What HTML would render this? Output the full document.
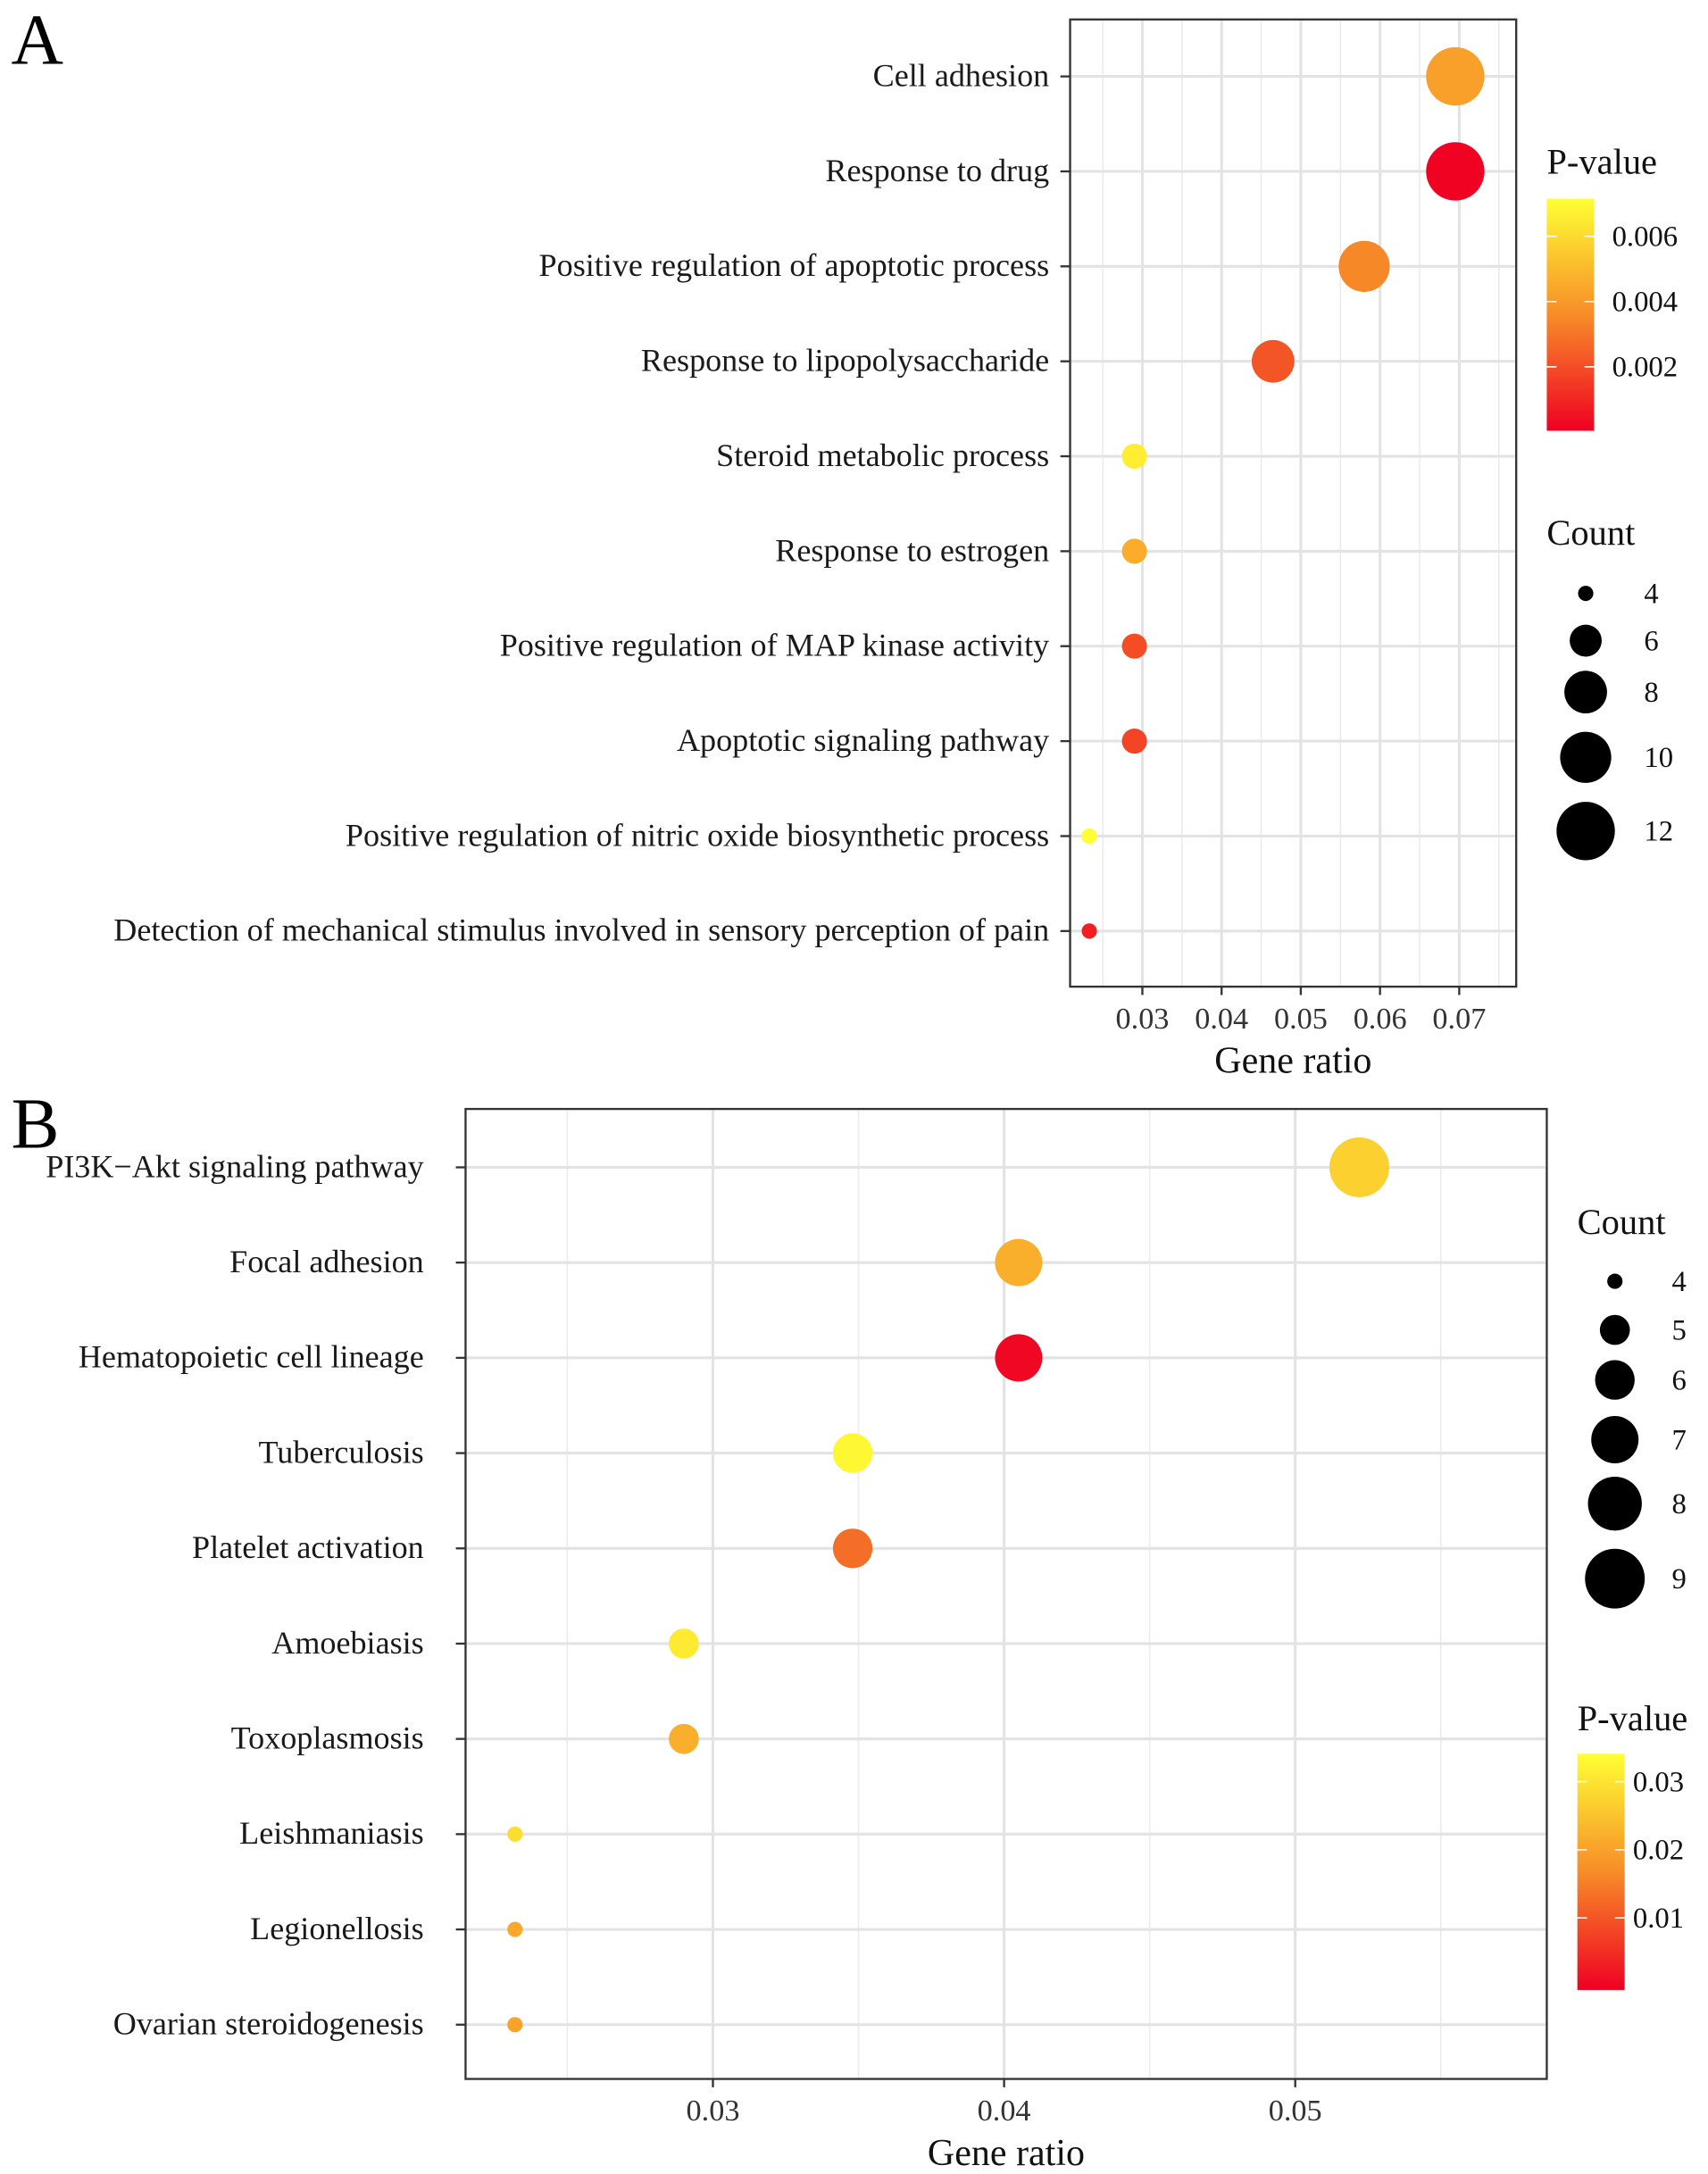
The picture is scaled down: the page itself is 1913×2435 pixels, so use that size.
<!DOCTYPE html>
<html><head><meta charset="utf-8"><style>
html,body{margin:0;padding:0;background:#fff;}
svg{display:block;font-family:"Liberation Serif",serif;}
</style></head><body>
<svg id="fig" width="1913" height="2435" viewBox="0 0 1229 1564.4" preserveAspectRatio="none" xmlns="http://www.w3.org/2000/svg">
<text x="8" y="46" font-size="52">A</text>
<text x="8" y="826" font-size="52">B</text>
<g id="gA"></g>
<g id="gB"></g>
</svg>
<script>
const catsA=["Cell adhesion","Response to drug","Positive regulation of apoptotic process","Response to lipopolysaccharide","Steroid metabolic process","Response to estrogen","Positive regulation of MAP kinase activity","Apoptotic signaling pathway","Positive regulation of nitric oxide biosynthetic process","Detection of mechanical stimulus involved in sensory perception of pain"];
const ratioA=[0.0695,0.0695,0.058,0.0465,0.029,0.029,0.029,0.029,0.0233,0.0233];
const countA=[12,12,10,8,5,5,5,5,4,4];
const pA=[0.0042,0.0001,0.0035,0.0022,0.0066,0.0046,0.0020,0.0018,0.0071,0.0008];
const xTicksA=[0.03,0.04,0.05,0.06,0.07];
const xMinorA=[0.025,0.035,0.045,0.055,0.065,0.075];
const sizeLegA=[4,6,8,10,12];
const colTicksA=[0.002,0.004,0.006];

const catsB=["PI3K\u2212Akt signaling pathway","Focal adhesion","Hematopoietic cell lineage","Tuberculosis","Platelet activation","Amoebiasis","Toxoplasmosis","Leishmaniasis","Legionellosis","Ovarian steroidogenesis"];
const ratioB=[0.0522,0.0405,0.0405,0.0348,0.0348,0.029,0.029,0.0232,0.0232,0.0232];
const countB=[9,7,7,6,6,5,5,4,4,4];
const pB=[0.027,0.022,0.0003,0.033,0.013,0.031,0.022,0.029,0.021,0.020];
const xTicksB=[0.03,0.04,0.05];
const xMinorB=[0.025,0.035,0.045,0.055];
const sizeLegB=[4,5,6,7,8,9];
const colTicksB=[0.01,0.02,0.03];

const NS="http://www.w3.org/2000/svg";
function mk(parent,tag,attrs,text){const e=document.createElementNS(NS,tag);for(const k in attrs)e.setAttribute(k,attrs[k]);if(text!==undefined)e.textContent=text;parent.appendChild(e);return e;}
function lerp(a,b,t){return a+(b-a)*t;}
function col(t){t=Math.max(0,Math.min(1,t));const s=[[240,0,35],[247,140,40],[255,255,51]];let a,b,u;if(t<0.5){a=s[0];b=s[1];u=t/0.5;}else{a=s[1];b=s[2];u=(t-0.5)/0.5;}return `rgb(${Math.round(lerp(a[0],b[0],u))},${Math.round(lerp(a[1],b[1],u))},${Math.round(lerp(a[2],b[2],u))})`;}

function draw(g,cfg){
  const {cats,ratio,count,p,xt,xm,L,R,T,B,x0,x1,xv0,xv1,y0,dy,rmin,rmax,cmin,cmax,pmin,pmax,lblEnd}=cfg;
  const X=v=>x0+(v-xv0)/(xv1-xv0)*(x1-x0);
  const Y=i=>y0+i*dy;
  const S=c=>Math.sqrt(rmin*rmin+(c-cmin)/(cmax-cmin)*(rmax*rmax-rmin*rmin));
  const P=v=>(v-pmin)/(pmax-pmin);
  mk(g,'rect',{x:L,y:T,width:R-L,height:B-T,fill:'#fff'});
  xm.forEach(v=>{const x=X(v);if(x>L&&x<R){const l=mk(g,'line',{x1:x,x2:x,y1:T,y2:B,stroke:'#ebebeb','stroke-width':1});

}});
  xt.forEach(v=>{const x=X(v);const l=mk(g,'line',{x1:x,x2:x,y1:T,y2:B,stroke:'#e3e3e3','stroke-width':2});


    mk(g,'line',{x1:x,x2:x,y1:B,y2:B+6,stroke:'#333','stroke-width':1.5});
    const t=mk(g,'text',{x:x,y:B+30,'font-size':22,'text-anchor':'middle',fill:'#333'},String(v));

});
  cats.forEach((c,i)=>{const y=Y(i);const l=mk(g,'line',{x1:L,x2:R,y1:y,y2:y,stroke:'#e3e3e3','stroke-width':2});


    mk(g,'line',{x1:L-7,x2:L,y1:y,y2:y,stroke:'#333','stroke-width':1.5});
    const t=mk(g,'text',{x:lblEnd,y:y+7,'font-size':23.2,'text-anchor':'end',fill:'#1a1a1a'},c);

});
  cats.forEach((c,i)=>{const d=mk(g,'circle',{cx:X(ratio[i]),cy:Y(i),r:S(count[i]),fill:col(P(p[i]))});

});
  mk(g,'rect',{x:L,y:T,width:R-L,height:B-T,fill:'none',stroke:'#333','stroke-width':1.5});
  const xt2=mk(g,'text',{x:(L+R)/2,y:B+62,'font-size':27,'text-anchor':'middle',fill:'#111'},'Gene ratio');


  return {S,P};
}

function sizeLegend(g,fns,vals,title,tx,ty,cx,ys,lx){
  const t=mk(g,'text',{x:tx,y:ty,'font-size':26,fill:'#111'},title);


  vals.forEach((v,i)=>{const c=mk(g,'circle',{cx:cx,cy:ys[i],r:fns.S(v),fill:'#000'});


    const l=mk(g,'text',{x:lx,y:ys[i]+7,'font-size':21,fill:'#111'},String(v));

});
}
function colorLegend(g,fns,id,ticks,title,tx,ty,bx,bt,bb,pmin,pmax,lx,fmt){
  const t=mk(g,'text',{x:tx,y:ty,'font-size':26,fill:'#111'},title);


  const defs=mk(g,'defs',{});const gr=mk(defs,'linearGradient',{id:id,x1:0,y1:1,x2:0,y2:0});
  for(let k=0;k<=10;k++){mk(gr,'stop',{offset:k/10,'stop-color':col(k/10)});}
  const r=mk(g,'rect',{x:bx,y:bt,width:34,height:bb-bt,fill:`url(#${id})`});


  ticks.forEach(v=>{const y=bb-(v-pmin)/(pmax-pmin)*(bb-bt);
    mk(g,'line',{x1:bx,x2:bx+7,y1:y,y2:y,stroke:'#fff','stroke-width':1});
    mk(g,'line',{x1:bx+27,x2:bx+34,y1:y,y2:y,stroke:'#fff','stroke-width':1});
    const l=mk(g,'text',{x:lx,y:y+7,'font-size':21,fill:'#111'},fmt(v));

});
}

const gA=document.getElementById('gA');
const fA=draw(gA,{cats:catsA,ratio:ratioA,count:countA,p:pA,xt:xTicksA,xm:xMinorA,L:770,R:1091,T:14,B:710,x0:822,x1:1050,xv0:0.03,xv1:0.07,y0:55,dy:68.33,rmin:5.5,rmax:21,cmin:4,cmax:12,pmin:0.00004,pmax:0.00715,lblEnd:755});
sizeLegend(gA,fA,sizeLegA,'Count',1113,392,1141,[427,461,498,545,598],1183);
colorLegend(gA,fA,'gradA',colTicksA,'P-value',1113,125,1113,143,310,0.00004,0.00715,1160,v=>v.toFixed(3));

const gB=document.getElementById('gB');
const fB=draw(gB,{cats:catsB,ratio:ratioB,count:countB,p:pB,xt:xTicksB,xm:xMinorB,L:335,R:1113,T:798,B:1496,x0:513,x1:932,xv0:0.03,xv1:0.05,y0:840,dy:68.55,rmin:5.5,rmax:21.5,cmin:4,cmax:9,pmin:-0.0006,pmax:0.0341,lblEnd:305});
sizeLegend(gB,fB,sizeLegB,'Count',1135,888,1162,[922,957,993,1036,1082,1136],1203);
colorLegend(gB,fB,'gradB',colTicksB,'P-value',1135,1245,1135,1262,1432,-0.0006,0.0341,1175,v=>v.toFixed(2));
</script>
</body></html>
